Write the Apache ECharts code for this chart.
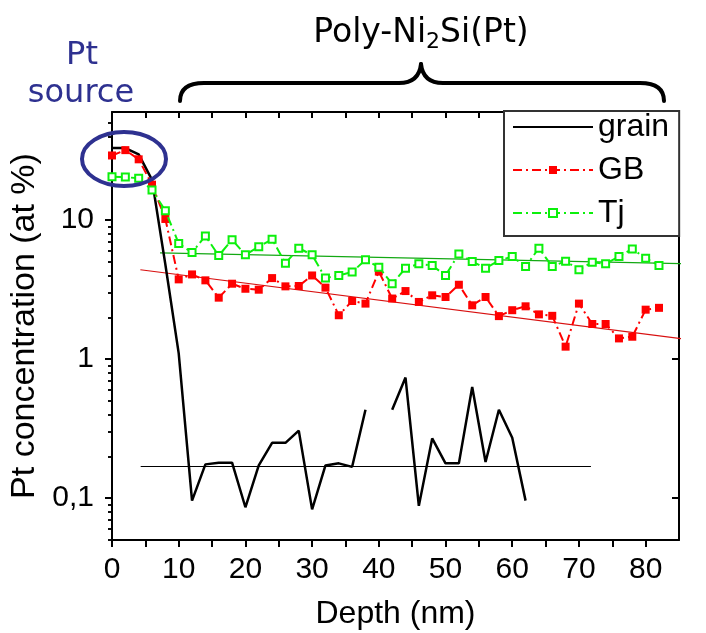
<!DOCTYPE html>
<html><head><meta charset="utf-8">
<script src="https://cdn.jsdelivr.net/npm/echarts@6/dist/echarts.min.js"></script>
<style>html,body{margin:0;padding:0;background:#fff}#c{width:706px;height:633px}</style>
</head><body><div id="c"></div>
<script>
// ---- data ----
var depth = [0,2,4,6,8,10,12,14,16,18,20,22,24,26,28,30,32,34,36,38,40,42,44,46,48,50,52,54,56,58,60,62,64,66,68,70,72,74,76,78,80,82];
var grain = [33,33,29.7,19.5,4.8,1.1,0.096,0.175,0.18,0.18,0.086,0.172,0.25,0.25,0.306,0.083,0.172,0.178,0.168,0.433,null,0.433,0.737,0.088,0.269,0.178,0.178,0.63,0.182,0.433,0.272,0.096];
var gb = [29.2,31.9,27.4,18,10.2,3.75,4.07,3.69,2.77,3.49,3.21,3.16,3.83,3.34,3.36,4.0,3.27,2.07,2.62,2.51,4.27,2.73,3.09,2.58,2.88,2.8,3.43,2.44,2.8,2.04,2.25,2.40,2.1,2.05,1.23,2.51,1.79,1.79,1.41,1.45,2.27,2.34];
var tj = [20.5,20.4,20.0,16.5,11.7,6.8,5.85,7.7,5.56,7.24,5.63,6.45,7.28,4.9,6.28,5.63,3.83,4.0,4.23,5.18,4.59,3.49,4.51,4.85,4.72,4.0,5.72,5.04,4.51,5.12,5.47,4.64,6.28,4.64,5.07,4.4,4.98,4.85,5.47,6.21,5.32,4.72];
var fitGrainX = [4.3, 71.8], fitGrainY = [0.169, 0.169];
var fitGBX = [4.25, 89.1], fitGBY = [4.4, 1.33];
var fitTjX = [7.2, 87], fitTjY = [5.82, 4.85];
var yMajor = [0.1, 1, 10];
var yMinor = [0.05,0.06,0.07,0.08,0.09,0.2,0.3,0.4,0.5,0.6,0.7,0.8,0.9,2,3,4,5,6,7,8,9,20,30,40,50];
var seriesNames = ['grain','GB','Tj'];

function pairs(xs, ys){ var out=[]; for (var i=0;i<ys.length;i++) out.push([xs[i], ys[i]]); return out; }

var FONT = '"Liberation Sans", Arial, sans-serif';
var DV = '"DejaVu Sans", Verdana, sans-serif';
var NAVY = '#2e3190';

var yBase = {type:'log', min:0.05, max:60, splitLine:{show:false}};
function yAx(extra){ return Object.assign({}, yBase, extra); }

var chart = echarts.init(document.getElementById('c'), null, {renderer:'canvas'});
chart.setOption({
  animation:false,
  backgroundColor:'#fff',
  grid:{left:112, top:112, right:27, bottom:93, containLabel:false, outerBoundsMode:'none'},
  xAxis:[
    {type:'value', min:0, max:85, interval:5, position:'bottom',
     axisLine:{show:true, onZero:false, lineStyle:{color:'#000', width:2}},
     axisTick:{show:true, length:7, lineStyle:{color:'#000', width:2}},
     axisLabel:{fontFamily:FONT, fontSize:30, color:'#000', margin:15, showMaxLabel:false,
       formatter:function(v){ return (v % 10 === 0) ? String(v) : ''; }},
     splitLine:{show:false},
     name:'Depth (nm)', nameLocation:'middle', nameGap:58,
     nameTextStyle:{fontFamily:FONT, fontSize:32, color:'#000'}},
    {type:'value', min:0, max:85, interval:5, position:'top',
     axisLine:{show:true, onZero:false, lineStyle:{color:'#000', width:2}},
     axisTick:{show:true, inside:true, length:6, lineStyle:{color:'#000', width:2}},
     axisLabel:{show:false}, splitLine:{show:false}}
  ],
  yAxis:[
    yAx({position:'left',
      axisLine:{show:true, onZero:false, lineStyle:{color:'#000', width:2}},
      axisTick:{show:true, length:7, customValues:yMajor, lineStyle:{color:'#000', width:2}},
      axisLabel:{fontFamily:FONT, fontSize:30, color:'#000', margin:18, customValues:yMajor,
        formatter:function(v){ return v < 0.5 ? String(v).replace('.', ',') : String(v); }},
      name:'Pt concentration (at %)', nameLocation:'middle', nameGap:64, nameRotate:90,
      nameTextStyle:{fontFamily:FONT, fontSize:34, color:'#000'}}),
    yAx({position:'left', axisLine:{show:false},
      axisTick:{show:true, length:4, customValues:yMinor, lineStyle:{color:'#000', width:1.5}},
      axisLabel:{show:false}}),
    yAx({position:'right',
      axisLine:{show:true, onZero:false, lineStyle:{color:'#000', width:2}},
      axisTick:{show:true, inside:true, length:7, customValues:yMajor, lineStyle:{color:'#000', width:2}},
      axisLabel:{show:false}}),
    yAx({position:'right', axisLine:{show:false},
      axisTick:{show:true, inside:true, length:4, customValues:yMinor, lineStyle:{color:'#000', width:1.5}},
      axisLabel:{show:false}})
  ],
  legend:{
    data:[{name:'grain', itemStyle:{opacity:0}}, {name:'GB'}, {name:'Tj'}],
    orient:'vertical', left:504, top:111,
    itemWidth:80, itemHeight:10, itemGap:11, padding:[0,10,7,8],
    borderColor:'#333', borderWidth:2, backgroundColor:'#fff',
    textStyle:{fontFamily:FONT, fontSize:32, color:'#000'}
  },
  series:[
    {name:'grain', type:'line', data:pairs(depth, grain), symbol:'none', connectNulls:false,
     lineStyle:{color:'#000', width:2.5}, itemStyle:{color:'#000'}, z:3},
    {name:'GB', type:'line', data:pairs(depth, gb), symbol:'rect', symbolSize:8, showAllSymbol:true,
     lineStyle:{color:'#ff0000', width:2, type:[9,4,2,4]}, itemStyle:{color:'#ff0000'}, z:4},
    {name:'Tj', type:'line', data:pairs(depth, tj), symbol:'emptyRect', symbolSize:7, showAllSymbol:true,
     lineStyle:{color:'#0cf00c', width:2, type:[9,4,2,4]}, itemStyle:{color:'#0cf00c', borderWidth:1.6}, z:5},
    {name:'fitGrain', type:'line', data:pairs(fitGrainX, fitGrainY), symbol:'none', clip:false, silent:true,
     lineStyle:{color:'#000', width:1.2}, z:2},
    {name:'fitGB', type:'line', data:pairs(fitGBX, fitGBY), symbol:'none', clip:false, silent:true,
     lineStyle:{color:'#d81010', width:1.2}, z:2},
    {name:'fitTj', type:'line', data:pairs(fitTjX, fitTjY), symbol:'none', clip:false, silent:true,
     lineStyle:{color:'#13a813', width:1.2}, z:2}
  ],
  graphic:[
    {type:'ellipse', shape:{cx:124, cy:159, rx:42, ry:27}, style:{fill:'none', stroke:NAVY, lineWidth:4}, z:100},
    {type:'bezierCurve', shape:{x1:180, y1:101, cpx1:180, cpy1:83, x2:204, y2:83}, style:{fill:'none', stroke:'#000', lineWidth:4, lineCap:'round'}},
    {type:'line', shape:{x1:203, y1:83, x2:400, y2:83}, style:{stroke:'#000', lineWidth:4}},
    {type:'bezierCurve', shape:{x1:399, y1:83, cpx1:419, cpy1:83, x2:421, y2:64}, style:{fill:'none', stroke:'#000', lineWidth:4, lineCap:'round'}},
    {type:'bezierCurve', shape:{x1:421, y1:64, cpx1:423, cpy1:83, x2:443, y2:83}, style:{fill:'none', stroke:'#000', lineWidth:4, lineCap:'round'}},
    {type:'line', shape:{x1:442, y1:83, x2:641, y2:83}, style:{stroke:'#000', lineWidth:4}},
    {type:'bezierCurve', shape:{x1:640, y1:83, cpx1:664, cpy1:83, x2:664, y2:101}, style:{fill:'none', stroke:'#000', lineWidth:4, lineCap:'round'}},
    {type:'text', x:82, y:56, style:{text:'Pt', fontFamily:DV, fontSize:32, fill:NAVY, align:'center', verticalAlign:'middle'}},
    {type:'text', x:81, y:94, style:{text:'source', fontFamily:DV, fontSize:32, fill:NAVY, align:'center', verticalAlign:'middle'}},
    {type:'text', x:421, y:33, style:{
      text:'{a|Poly-Ni}{s|2}{a|Si(Pt)}', align:'center', verticalAlign:'middle',
      rich:{a:{fontFamily:DV, fontSize:33, fill:'#000', lineHeight:40, verticalAlign:'middle'},
            s:{fontFamily:DV, fontSize:22, fill:'#000', lineHeight:18, verticalAlign:'bottom'}}}}
  ]
});
</script></body></html>
